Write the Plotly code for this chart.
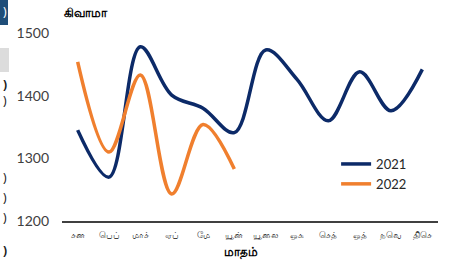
import plotly.graph_objects as go

months = ["சன", "பெப்", "மாச்", "ஏப்", "மே", "யூன்", "யூலை", "ஒக", "செத்", "ஒத்", "நவெ", "திசெ"]
y2021 = [1345, 1270, 1478, 1401, 1380, 1341, 1473, 1426, 1360, 1438, 1376, 1442]
y2022 = [1454, 1310, 1433, 1243, 1354, 1283]
yticks = [1200, 1300, 1400, 1500]

NAVY = "#0c2a68"
ORANGE = "#f07f2e"

fig = go.Figure()
fig.add_trace(go.Scatter(x=list(range(12)), y=y2021, mode="lines", name="2021",
                         line=dict(color=NAVY, width=3.5, shape="spline", smoothing=1.0)))
fig.add_trace(go.Scatter(x=list(range(len(y2022))), y=y2022, mode="lines", name="2022",
                         line=dict(color=ORANGE, width=3.5, shape="spline", smoothing=1.0)))

fig.update_layout(
    width=450, height=265,
    margin=dict(l=62, r=12, t=33, b=44),
    paper_bgcolor="white", plot_bgcolor="white",
    font=dict(family="Noto Sans, DejaVu Sans, sans-serif", color="#404040"),
    showlegend=True,
    legend=dict(x=0.729, y=0.25, xanchor="left", yanchor="middle",
                font=dict(size=13, color="#262626", family="Lato, Noto Sans, sans-serif"),
                bgcolor="rgba(0,0,0,0)", tracegroupgap=2),
    xaxis=dict(range=[-0.5, 11.5], tickmode="array", tickvals=list(range(12)), ticktext=months,
               showgrid=False, zeroline=False, showline=True, linecolor="#404040", linewidth=1.5,
               ticks="", tickfont=dict(size=9, color="#404040"), ticklabelstandoff=4,
               fixedrange=True),
    yaxis=dict(range=[1200, 1500], tickmode="array", tickvals=yticks,
               ticktext=[str(v) for v in yticks],
               showgrid=False, zeroline=False, showline=False, ticks="",
               tickfont=dict(size=14, color="#404040", family="Lato, Noto Sans, sans-serif"),
               ticklabelstandoff=12, fixedrange=True),
)

fig.add_annotation(text="<b>கிவாமா</b>", xref="paper", yref="paper", x=0.0, y=1.0,
                   xanchor="left", yanchor="bottom", yshift=10, showarrow=False,
                   font=dict(size=12, color="#000000"))
fig.add_annotation(text="<b>மாதம்</b>", xref="paper", yref="paper", x=0.476, y=0.0,
                   xanchor="center", yanchor="top", yshift=-20, showarrow=False,
                   font=dict(size=12, color="#000000"))

# cropped fragments of an adjacent panel at the left edge
fig.add_shape(type="rect", xref="paper", yref="paper", x0=-62/376, x1=-54/376,
              y0=(221-25)/188, y1=(221+5)/188,
              fillcolor="#1f4e79", line=dict(width=0), layer="above")
fig.add_shape(type="rect", xref="paper", yref="paper", x0=-62/376, x1=-53/376,
              y0=(221-72)/188, y1=(221-48)/188,
              fillcolor="#dcdcdc", line=dict(width=0), layer="above")

def frag(ypix, bold=False, color="#1a1a1a"):
    t = "<b>)</b>" if bold else ")"
    fig.add_annotation(text=t, xref="paper", yref="paper", x=-61/376, y=(221-ypix)/188,
                       xanchor="left", yanchor="middle", showarrow=False,
                       font=dict(size=12, color=color))

frag(11, color="#ffffff")
frag(84, bold=True)
frag(100)
frag(177)
frag(197)
frag(217)
frag(250, bold=True)

fig.write_html("out.html", config={"displayModeBar": False},
               post_script="document.body.style.margin='0';document.body.style.padding='0';")
